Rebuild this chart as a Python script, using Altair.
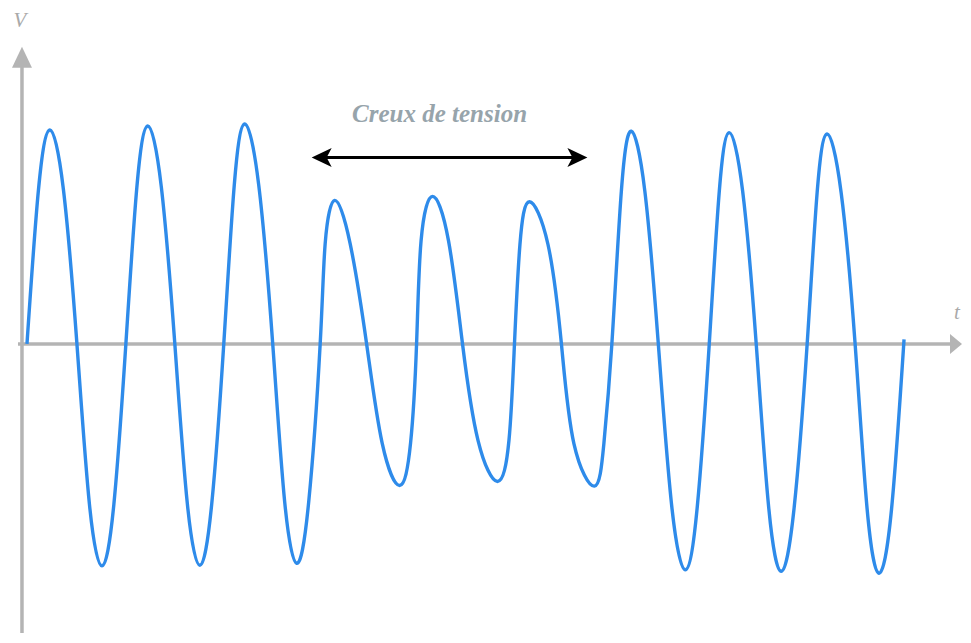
import altair as alt
import pandas as pd

# ---- data (time in ms, voltage in V) ----
t_ms = [
    0.0, 2.3, 4.6, 7.3, 10.0, 12.5, 15.0, 17.4, 19.8,
    22.0, 24.2, 26.9, 29.6, 32.1, 34.6, 37.0, 39.4,
    41.5, 43.6, 46.4, 49.2, 51.6, 54.0, 56.4, 58.7,
    59.7, 61.6, 64.7, 68.0, 71.1, 74.6, 76.8, 78.0,
    78.9, 81.2, 84.4, 87.2, 90.3, 94.2, 96.5, 97.6,
    98.7, 100.6, 104.3, 107.0, 109.5, 113.6, 115.5, 117.1,
    119.0, 121.0, 123.7, 126.4, 129.1, 131.8, 134.2, 136.6,
    138.6, 140.6, 143.3, 146.0, 148.5, 151.0, 153.6, 156.2,
    158.2, 160.2, 163.0, 165.8, 168.2, 170.6, 173.1, 175.6,
]
v_volts = [
    0, 232, 322, 232, 0, -241, -334, -241, 0,
    236, 328, 236, 0, -240, -333, -240, 0,
    239, 331, 239, 0, -238, -330, -238, 0,
    151, 216, 151, 0, -149, -213, -149, 0,
    155, 222, 155, 0, -145, -207, -145, 0,
    150, 214, 150, 0, -150, -214, -150, 0,
    230, 320, 230, 0, -245, -340, -245, 0,
    229, 318, 229, 0, -246, -342, -246, 0,
    228, 316, 228, 0, -248, -345, -248, 7,
]

annotation_text = "Creux de tension"
axis_labels = ["V", "t"]

# ---- layout ----
W, H = 955, 627
xs = alt.Scale(domain=[-3.8, 187.2], nice=False, zero=False)
ys = alt.Scale(domain=[-435, 505.5], nice=False, zero=False)

AXIS_GRAY = "#b4b4b4"
WAVE_BLUE = "#2e8bea"

wave_df = pd.DataFrame({"t": t_ms, "v": v_volts})
wave = alt.Chart(wave_df).mark_line(
    color=WAVE_BLUE, strokeWidth=3.4, interpolate="natural"
).encode(
    x=alt.X("t:Q", scale=xs, axis=None),
    y=alt.Y("v:Q", scale=ys, axis=None),
)

# axes (gray arrows)
axes_df = pd.DataFrame({"t": [-1.0, -1.8], "t2": [-1.0, 185.0],
                        "v": [-435, 0], "v2": [427.5, 0]})
axes = alt.Chart(axes_df).mark_rule(color=AXIS_GRAY, strokeWidth=3.5).encode(
    x=alt.X("t:Q", scale=xs, axis=None), x2="t2:Q",
    y=alt.Y("v:Q", scale=ys, axis=None), y2="v2:Q",
)
heads_df = pd.DataFrame({
    "t": [-1.0, 186.0],
    "v": [431.25, 0],
    "shape": ["M0,-1L0.95,1L-0.95,1Z", "M0.6,0L-0.6,-1L-0.6,1Z"],
    "size": [441, 400],
})
heads = alt.Chart(heads_df).mark_point(
    filled=True, color=AXIS_GRAY, opacity=1, strokeWidth=0
).encode(
    x=alt.X("t:Q", scale=xs, axis=None),
    y=alt.Y("v:Q", scale=ys, axis=None),
    shape=alt.Shape("shape:N", scale=None),
    size=alt.Size("size:Q", scale=None),
)

# axis labels
lab_df = pd.DataFrame({"t": [-1.4, 186.2], "v": [477, 37.5], "label": axis_labels})
labels = alt.Chart(lab_df).mark_text(
    font="Liberation Serif", fontStyle="italic", fontSize=21, color="#a9a9a9",
    align="center", baseline="alphabetic"
).encode(
    x=alt.X("t:Q", scale=xs, axis=None),
    y=alt.Y("v:Q", scale=ys, axis=None),
    text="label:N",
)

# double arrow of the dip
darrow_df = pd.DataFrame({"t": [57.8], "t2": [111.4], "v": [280.5]})
darrow = alt.Chart(darrow_df).mark_rule(color="black", strokeWidth=3).encode(
    x=alt.X("t:Q", scale=xs, axis=None), x2="t2:Q",
    y=alt.Y("v:Q", scale=ys, axis=None),
)
dheads_df = pd.DataFrame({
    "t": [59.0, 110.2],
    "v": [280.5, 280.5],
    "shape": ["M-1,0L1,-0.95L0.5,0L1,0.95Z", "M1,0L-1,-0.95L-0.5,0L-1,0.95Z"],
    "size": [400, 400],
})
dheads = alt.Chart(dheads_df).mark_point(
    filled=True, color="black", opacity=1, strokeWidth=0
).encode(
    x=alt.X("t:Q", scale=xs, axis=None),
    y=alt.Y("v:Q", scale=ys, axis=None),
    shape=alt.Shape("shape:N", scale=None),
    size=alt.Size("size:Q", scale=None),
)

title_df = pd.DataFrame({"t": [82.6], "v": [334.5], "label": [annotation_text]})
title = alt.Chart(title_df).mark_text(
    font="Liberation Serif", fontStyle="italic", fontWeight="bold", fontSize=25,
    color="#97a4ab", align="center", baseline="alphabetic"
).encode(
    x=alt.X("t:Q", scale=xs, axis=None),
    y=alt.Y("v:Q", scale=ys, axis=None),
    text="label:N",
)

chart = alt.layer(axes, heads, wave, darrow, dheads, title, labels).properties(
    width=W, height=H, padding=0,
    autosize=alt.AutoSizeParams(type="fit", contains="padding"),
    background="white",
).configure_view(stroke=None)

chart.save("out.html", embed_options={"renderer": "svg", "actions": False})
